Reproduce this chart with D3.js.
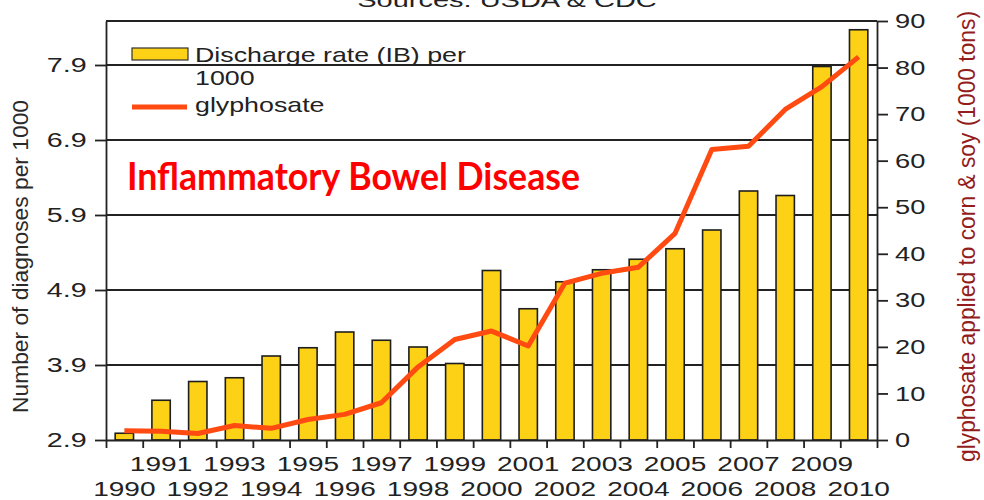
<!DOCTYPE html>
<html>
<head>
<meta charset="utf-8">
<script src="https://cdn.jsdelivr.net/npm/d3@7"></script>
<style>
  body { margin: 0; background: #fff; }
  text { font-family: "Liberation Sans", Arial, sans-serif; fill: #222; }
</style>
</head>
<body>
<div id="chart"></div>
<script>
// data
const years = [1990, 1991, 1992, 1993, 1994, 1995, 1996, 1997, 1998, 1999, 2000,
               2001, 2002, 2003, 2004, 2005, 2006, 2007, 2008, 2009, 2010];
const discharge = [2.99, 3.43, 3.68, 3.73, 4.02, 4.13, 4.34, 4.23, 4.14, 3.92, 5.16,
                   4.65, 5.01, 5.17, 5.31, 5.45, 5.70, 6.22, 6.16, 7.88, 8.37];
const glyphosate = [2.0, 1.9, 1.4, 3.1, 2.5, 4.4, 5.5, 8.0, 15.7, 21.6, 23.4,
                    20.2, 33.7, 35.8, 37.1, 44.4, 62.4, 63.1, 71.0, 75.9, 82.3];
const leftTicks = [2.9, 3.9, 4.9, 5.9, 6.9, 7.9];
const rightTicks = [0, 10, 20, 30, 40, 50, 60, 70, 80, 90];

const svgWidth = 984, svgHeight = 500;
const plot = { left: 106, right: 877, top: 21, bottom: 440 };
const lineCol = "#222";

const svg = d3.select("#chart").append("svg")
  .attr("width", svgWidth)
  .attr("height", svgHeight)
  .style("background", "#fff");

// scales
const x = d3.scaleBand()
  .domain(years)
  .range([plot.left, plot.right])
  .paddingInner(0.5)
  .paddingOuter(0.25);

const xEdge = d3.scaleLinear()
  .domain([0, years.length])
  .range([plot.left, plot.right]);

const yL = d3.scaleLinear()
  .domain([2.9, 2.9 + (plot.bottom - plot.top) / 75])
  .range([plot.bottom, plot.top]);

const yR = d3.scaleLinear()
  .domain([0, 90])
  .range([plot.bottom, plot.top]);

// gridlines (behind bars)
svg.append("g")
  .selectAll("line")
  .data(leftTicks.slice(1))
  .join("line")
  .attr("x1", plot.left).attr("x2", plot.right)
  .attr("y1", d => yL(d)).attr("y2", d => yL(d))
  .attr("stroke", lineCol).attr("stroke-width", 1.8);

// top frame line
svg.append("line")
  .attr("x1", plot.left).attr("x2", plot.right)
  .attr("y1", plot.top).attr("y2", plot.top)
  .attr("stroke", lineCol).attr("stroke-width", 1.8);

// bars
svg.append("g")
  .selectAll("rect")
  .data(years)
  .join("rect")
  .attr("x", d => x(d))
  .attr("width", x.bandwidth())
  .attr("y", (d, i) => yL(discharge[i]))
  .attr("height", (d, i) => yL(2.9) - yL(discharge[i]))
  .attr("fill", "#fcd116")
  .attr("stroke", "#1e1e1e")
  .attr("stroke-width", 1.6);

// glyphosate line
const line = d3.line()
  .x((d, i) => x(years[i]) + x.bandwidth() / 2)
  .y(d => yR(d));

svg.append("path")
  .datum(glyphosate)
  .attr("d", line)
  .attr("fill", "none")
  .attr("stroke", "#ff4a12")
  .attr("stroke-width", 5)
  .attr("stroke-linejoin", "round");

// left axis
const leftAxis = svg.append("g")
  .attr("transform", `translate(${plot.left},0)`)
  .call(d3.axisLeft(yL).tickValues(leftTicks).tickSize(11).tickSizeOuter(0)
    .tickFormat(d3.format(".1f")));
leftAxis.select(".domain").attr("stroke", lineCol).attr("stroke-width", 1.8);
leftAxis.selectAll(".tick line").attr("stroke", lineCol).attr("stroke-width", 1.8);
leftAxis.selectAll(".tick text")
  .attr("font-size", 20.5)
  .attr("fill", "#222")
  .attr("x", -19.3 / 1.4)
  .attr("transform", "scale(1.4,1)");

// right axis
const rightAxis = svg.append("g")
  .attr("transform", `translate(${plot.right},0)`)
  .call(d3.axisRight(yR).tickValues(rightTicks).tickSize(11).tickSizeOuter(0));
rightAxis.select(".domain").attr("stroke", lineCol).attr("stroke-width", 1.8);
rightAxis.selectAll(".tick line").attr("stroke", lineCol).attr("stroke-width", 1.8);
rightAxis.selectAll(".tick text")
  .attr("font-size", 20.5)
  .attr("fill", "#222")
  .attr("x", 18 / 1.33)
  .attr("transform", "scale(1.33,1)");

// bottom axis: tick marks at category edges
const edgeAxis = svg.append("g")
  .attr("transform", `translate(0,${plot.bottom})`)
  .call(d3.axisBottom(xEdge).tickValues(d3.range(years.length + 1))
    .tickSize(8).tickSizeOuter(0).tickFormat(""));
edgeAxis.select(".domain").attr("stroke", lineCol).attr("stroke-width", 1.8);
edgeAxis.selectAll(".tick line").attr("stroke", lineCol).attr("stroke-width", 1.8);

// bottom axis: labels in two rows
const labelAxis = svg.append("g")
  .attr("transform", `translate(0,${plot.bottom})`)
  .call(d3.axisBottom(x).tickSize(0));
labelAxis.select(".domain").remove();
labelAxis.selectAll(".tick text")
  .attr("font-size", 19.5)
  .attr("fill", "#222")
  .attr("dy", 0)
  .attr("y", d => (d % 2 === 1 ? 31.5 : 56.5))
  .attr("transform", "scale(1.44,1)");

// source line at the top (cut off, as in the original)
svg.append("g")
  .attr("transform", "translate(507,7)")
  .append("text")
  .attr("text-anchor", "middle")
  .attr("font-size", 21)
  .attr("transform", "scale(1.38,1)")
  .text("Sources: USDA & CDC");

// axis titles
svg.append("text")
  .attr("transform", "translate(28,256.5) rotate(-90)")
  .attr("text-anchor", "middle")
  .attr("font-size", 21.5)
  .attr("textLength", 313)
  .attr("lengthAdjust", "spacingAndGlyphs")
  .style("fill", "#2a2a2a")
  .text("Number of diagnoses per 1000");

svg.append("text")
  .attr("transform", "translate(975,236.5) rotate(-90)")
  .attr("text-anchor", "middle")
  .attr("font-size", 23)
  .attr("textLength", 451)
  .attr("lengthAdjust", "spacingAndGlyphs")
  .style("fill", "#931c1c")
  .text("glyphosate applied to corn & soy (1000 tons)");

// legend
const legend = svg.append("g");
legend.append("rect")
  .attr("x", 132).attr("y", 48)
  .attr("width", 56).attr("height", 12)
  .attr("fill", "#fcd116")
  .attr("stroke", "#333").attr("stroke-width", 1.2);
legend.append("line")
  .attr("x1", 132).attr("x2", 187)
  .attr("y1", 107).attr("y2", 107)
  .attr("stroke", "#ff4a12").attr("stroke-width", 5);

const legendText = [
  { label: "Discharge rate (IB) per", y: 61.5 },
  { label: "1000", y: 85 },
  { label: "glyphosate", y: 111.5 }
];
legend.selectAll("g.lt")
  .data(legendText)
  .join("g")
  .attr("class", "lt")
  .attr("transform", d => `translate(195,${d.y})`)
  .append("text")
  .attr("font-size", 20)
  .attr("transform", "scale(1.34,1)")
  .text(d => d.label);

// annotation
svg.append("text")
  .attr("x", 127)
  .attr("y", 190)
  .attr("font-size", 38)
  .attr("font-weight", 700)
  .attr("textLength", 453)
  .attr("lengthAdjust", "spacingAndGlyphs")
  .style("font-family", "Lato, 'Open Sans', sans-serif")
  .style("fill", "#ff0000")
  .text("Inflammatory Bowel Disease");
</script>
</body>
</html>
